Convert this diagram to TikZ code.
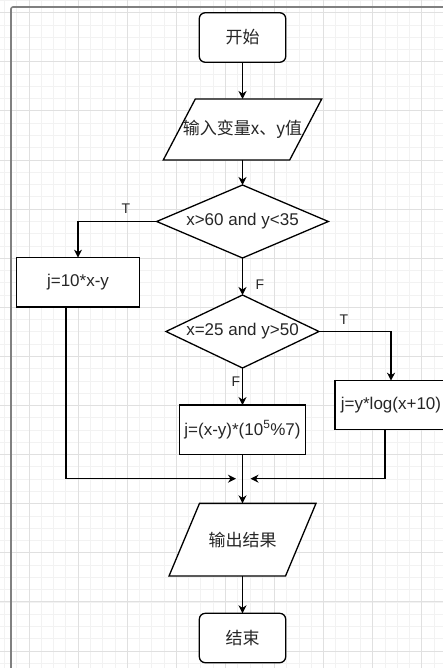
\documentclass[tikz,border=0pt]{standalone}
\usepackage{fontspec}
\setmainfont{Liberation Sans}
\newfontfamily\cjk{Noto Sans CJK SC}
\usetikzlibrary{shapes.geometric,arrows.meta,calc}

\begin{document}
\begin{tikzpicture}[x=1pt,y=-1pt,
  every node/.style={text=black!85},
  txt/.style={font=\fontsize{17}{20}\selectfont},
  cjktxt/.style={font=\cjk\fontsize{17}{20}\selectfont},
  lbl/.style={font=\fontsize{14}{16}\selectfont, inner sep=0pt},
  box/.style={draw, fill=white, line width=1.3pt, rectangle, inner sep=0pt, outer sep=0pt, txt},
  term/.style={box, rounded corners=6pt, cjktxt},
  io/.style={rectangle, inner sep=0pt, outer sep=0pt, cjktxt},
  ioline/.style={draw, fill=white, line width=1.3pt, line join=miter},
  cond/.style={diamond, draw, fill=white, line width=1.3pt, inner sep=0pt, outer sep=0pt, txt},
  flow/.style={line width=1.3pt, -{Stealth[length=8pt,width=8pt,inset=2.5pt]}},
  minorgrid/.style={draw=black!5, line width=0.8pt},
  majorgrid/.style={draw=black!12, line width=0.9pt},
  frame/.style={draw=black!50, line width=1.6pt, rounded corners=2pt}
]
\clip (0,0) rectangle (443,668);
\fill[white] (0,0) rectangle (443,668);

% background grid
\foreach \i in {-2,...,34} \draw[minorgrid] ({29+12.275*\i},0) -- ++(0,668);
\foreach \i in {-1,...,53} \draw[minorgrid] (0,{12.7+12.275*\i}) -- ++(443,0);
\foreach \i in {0,...,8} \draw[majorgrid] ({29+49.1*\i},0) -- ++(0,668);
\foreach \i in {0,...,13} \draw[majorgrid] (0,{12.7+49.1*\i}) -- ++(443,0);

% page frame
\draw[frame] (11,670) -- (11,7) -- (445,7);

% start
\node[term, minimum width=86.5pt, minimum height=49.5pt] (start) at (242.5,37.5) {开始};

% input
\node[io, minimum width=158.4pt, minimum height=61pt] (in) at (242.5,129.5) {};
\draw[ioline] (in.south west) -- ($(in.north west)+(32,0)$) -- (in.north east)
  -- ($(in.south east)-(32,0)$) -- cycle;
\node[io] (intext) at (in.center) {输入变量x、y值};

% first decision
\node[cond, minimum width=171.6pt, minimum height=73pt, aspect=2.35] (d1) at (242.5,221.5) {x>60 and y<35};

% left branch
\node[box, minimum width=122.6pt, minimum height=49.3pt] (b1) at (78,282.3) {j=10*x-y};

% second decision
\node[cond, minimum width=153pt, minimum height=73pt, aspect=2.1] (d2) at (242.5,331.5) {x=25 and y>50};

% middle branch
\node[box, minimum width=126.4pt, minimum height=49.3pt] (b2) at (242.5,429.7) {j=(x-y)*(10\textsuperscript{5}\%7)};

% right branch
\node[box, minimum width=112pt, minimum height=48.6pt] (b3) at (391,405) {j=y*log(x+10)};

% output
\node[io, minimum width=147pt, minimum height=72.7pt] (out) at (242.5,539.7) {};
\draw[ioline] (out.south west) -- ($(out.north west)+(30.5,0)$) -- (out.north east)
  -- ($(out.south east)-(30.5,0)$) -- cycle;
\node[io] (outtext) at (out.center) {输出结果};

% end
\node[term, minimum width=86.4pt, minimum height=49.4pt] (stop) at (242.5,638) {结束};

% merge point
\coordinate (m) at (242.5,478.7);

% connectors
\draw[flow] (start.south) -- (in.north);
\draw[flow] (in.south) -- (d1.north);
\draw[flow] (d1.west) -| (b1.north);
\draw[flow] (d1.south) -- (d2.north);
\draw[flow] (d2.east) -| (b3.north);
\draw[flow] (d2.south) -- (b2.north);
\draw[flow] ([xshift=-12pt]b1.south) |- ([xshift=-6.5pt]m);
\draw[flow] ([xshift=-6pt]b3.south) |- ([xshift=8pt]m);
\draw[flow] (b2.south) -- (out.north);
\draw[flow] (out.south) -- (stop.north);

% branch labels
\node[lbl] (t1) at (126,209) {T};
\node[lbl] (f1) at (260,284.5) {F};
\node[lbl] (t2) at (344,320) {T};
\node[lbl] (f2) at (236,382) {F};
\end{tikzpicture}
\end{document}
